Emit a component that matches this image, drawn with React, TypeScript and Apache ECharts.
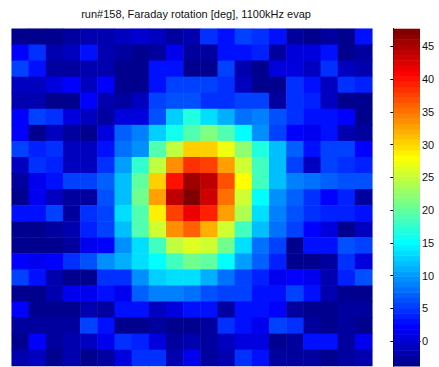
import React, { useEffect, useRef } from "react";
import * as echarts from "echarts";

const TITLE = "run#158, Faraday rotation [deg], 1100kHz evap";
const CLIM_MIN = -3.8;
const CLIM_MAX = 47.7;
const COLORBAR_TICKS = [0, 5, 10, 15, 20, 25, 30, 35, 40, 45];
const COLUMNS = Array.from({ length: 21 }, (_, i) => String(i + 1));
const ROW_NAMES = Array.from({ length: 21 }, (_, i) => String(i + 1));

// rows top to bottom, columns left to right
const row00 = [-3.5, -3.0, -3.5, -2.6, -1.4, -1.8, -1.0, -0.2, -0.6, -2.6, -1.4, 4.6, 3.0, 5.4, 5.0, 3.4, -2.6, -3.0, -2.6, -3.5, 3.0];
const row01 = [2.6, 4.6, -1.8, -0.6, 3.0, -1.8, -2.2, -3.4, -2.6, 1.4, -2.2, -2.2, 3.0, 3.0, 3.8, -2.2, 0.6, 0.6, 3.0, -3.4, -2.6];
const row02 = [5.4, 3.0, -2.6, -2.6, -1.8, -1.4, -3.5, -3.6, 3.0, 3.0, -3.0, -3.0, 5.4, -1.8, -3.4, 1.0, 1.0, -1.0, 4.6, -1.0, -1.8];
const row03 = [-1.0, -1.0, 1.0, 2.6, -0.6, 2.6, -3.0, -3.5, 3.0, 5.4, 5.4, 5.4, 4.6, -1.0, -3.6, -3.4, 4.6, 3.0, -1.0, 4.6, 3.8];
const row04 = [-1.4, -1.4, -3.5, -3.5, 2.6, -1.4, -2.6, -0.6, 5.4, 6.2, 6.2, 4.6, 4.6, 5.4, 5.4, -2.6, 4.6, 3.8, -1.0, -3.4, -3.4];
const row05 = [2.6, 5.4, 4.6, 0.6, -0.6, -2.2, 0.6, 0.6, 6.2, 12.7, 16.7, 13.9, 10.7, 7.9, 8.7, 6.2, 4.6, 3.0, 3.0, 2.2, -3.4];
const row06 = [2.2, -3.4, -1.0, -2.6, -3.6, 0.6, 7.0, 8.7, 12.3, 15.9, 19.1, 21.5, 19.1, 15.1, 9.5, 5.4, 2.2, 1.4, 3.0, -1.8, -2.2];
const row07 = [5.4, 3.8, 4.6, -0.6, -1.0, 3.0, 7.9, 9.5, 19.1, 24.7, 30.0, 30.0, 27.1, 22.3, 16.7, 11.5, 7.0, 3.0, 5.4, 5.4, 2.2];
const row08 = [-0.6, 4.6, 3.8, -0.6, -1.0, 4.6, 10.3, 17.5, 25.1, 33.6, 38.4, 37.6, 32.8, 25.9, 18.3, 11.5, 5.4, -1.0, 5.4, 4.6, 3.8];
const row09 = [-2.2, 1.4, 3.0, 5.4, 5.4, 7.0, 11.9, 19.9, 30.8, 40.0, 45.6, 44.0, 36.8, 27.9, 18.3, 11.5, 8.7, 7.9, 7.0, 6.2, 6.2];
const row10 = [-3.6, 1.4, -0.6, -2.6, -2.6, 6.2, 11.5, 20.7, 32.8, 44.0, 47.2, 43.6, 35.2, 25.9, 15.1, 9.5, 7.0, 4.6, 2.2, 3.8, -2.2];
const row11 = [3.0, 3.0, 5.4, -2.6, 4.6, 5.4, 13.5, 19.1, 28.7, 37.6, 42.0, 39.2, 33.2, 24.3, 13.5, 8.7, 6.2, 4.6, 3.8, 3.8, 3.0];
const row12 = [-3.4, -3.4, -2.8, -1.8, 3.8, 5.4, 11.9, 19.1, 25.5, 33.6, 36.0, 32.0, 25.9, 18.3, 11.5, 7.9, 5.4, 2.2, 1.0, -3.6, -1.0];
const row13 = [-3.0, -3.5, -3.0, -2.8, 1.4, 2.2, 9.5, 13.5, 18.3, 24.7, 26.7, 25.5, 20.7, 13.5, 7.9, 5.4, -3.4, 3.4, 3.4, 6.2, 5.4];
const row14 = [2.2, 1.4, 2.2, 4.6, 6.2, 9.5, 10.7, 13.5, 15.1, 18.3, 20.7, 19.9, 15.1, 10.3, 7.0, 3.8, -3.4, -3.6, -2.6, 4.6, 0.6];
const row15 = [5.4, 3.0, -1.4, -3.4, -3.4, 4.6, 4.6, 9.5, 12.3, 13.5, 13.5, 11.1, 7.9, 5.4, 3.8, 1.4, 2.2, 1.4, -1.8, 3.8, 6.2];
const row16 = [-3.6, -3.0, -1.8, 1.4, 1.4, 3.0, 1.4, 7.0, 8.7, 8.7, 7.9, 6.2, 5.4, 5.4, 3.0, 3.0, 5.4, 3.0, -1.8, -3.4, -3.6];
const row17 = [2.2, -3.0, -3.0, -3.0, -1.8, -2.6, 3.0, 3.0, -1.0, 1.0, 3.0, 3.0, -2.2, 3.0, 3.0, 2.2, -2.6, -3.0, -3.0, -2.6, -2.2];
const row18 = [-2.2, -2.2, -2.2, -2.6, 5.4, 3.0, -3.4, -3.4, -2.2, -3.6, -3.5, -2.6, 4.6, 3.0, 1.4, 5.4, 4.6, -2.2, -3.0, -2.6, -3.4];
const row19 = [-3.6, 2.2, -2.2, -1.4, -1.0, 1.8, 4.6, 3.8, 0.6, -2.6, -1.8, -2.2, -1.0, 0.6, 1.0, -3.4, -2.6, 3.0, 3.0, -2.6, 1.4];
const row20 = [-1.8, -0.6, -3.0, -1.8, -3.0, -2.6, 1.0, 4.6, 4.6, -1.4, 1.4, -2.2, -1.4, 4.6, 3.0, -2.2, -2.2, -2.6, -3.5, -2.6, -1.8];

const MATRIX = [row00, row01, row02, row03, row04, row05, row06, row07, row08, row09, row10,
  row11, row12, row13, row14, row15, row16, row17, row18, row19, row20];

// MATLAB jet(64) colormap
function jet64(): string[] {
  const out: string[] = [];
  const h = (v: number) => Math.round(Math.max(0, Math.min(1, v)) * 255).toString(16).padStart(2, "0");
  for (let i = 0; i < 64; i++) {
    let r = 0, g = 0, b = 0;
    if (i <= 23) r = 0; else if (i <= 39) r = (i - 23) / 16; else if (i <= 55) r = 1; else r = (71 - i) / 16;
    if (i <= 7) g = 0; else if (i <= 23) g = (i - 7) / 16; else if (i <= 39) g = 1; else if (i <= 55) g = (55 - i) / 16; else g = 0;
    if (i <= 7) b = (i + 9) / 16; else if (i <= 23) b = 1; else if (i <= 39) b = (39 - i) / 16; else b = 0;
    out.push("#" + h(r) + h(g) + h(b));
  }
  return out;
}

const JET = jet64();

export default function App() {
  const ref = useRef<HTMLDivElement>(null);
  useEffect(() => {
    if (!ref.current) return;
    const chart = echarts.init(ref.current, null, { renderer: "svg" });
    const n = JET.length;
    const w = (CLIM_MAX - CLIM_MIN) / n;
    const pieces = JET.map((color, i) => {
      const p: any = { color };
      if (i > 0) p.gte = CLIM_MIN + i * w;
      if (i < n - 1) p.lt = CLIM_MIN + (i + 1) * w;
      return p;
    });
    const heatData: number[][] = [];
    MATRIX.forEach((row, r) => row.forEach((v, c) => heatData.push([c, r, v])));
    const levels = JET.map((_, i) => [CLIM_MIN + i * w, CLIM_MIN + (i + 1) * w, i]);

    const font = "Liberation Sans, Arial, sans-serif";
    const frame = { show: true, lineStyle: { color: "#000", width: 1 } };

    chart.setOption({
      animation: false,
      backgroundColor: "#fff",
      title: {
        text: TITLE,
        left: 191,
        top: 3,
        textAlign: "center",
        textStyle: { fontFamily: font, fontSize: 11, fontWeight: "normal", color: "#111" },
      },
      grid: [
        { left: 11.7, top: 28.7, width: 360.6, height: 337.3 },
        { left: 393.3, top: 28.7, width: 26.7, height: 337.3 },
      ],
      xAxis: [
        { type: "category", data: COLUMNS, gridIndex: 0, show: false },
        { type: "value", gridIndex: 1, min: 0, max: 1, position: "bottom", axisLine: frame, axisTick: { show: false }, axisLabel: { show: false }, splitLine: { show: false } },
        { type: "value", gridIndex: 1, min: 0, max: 1, position: "top", axisLine: frame, axisTick: { show: false }, axisLabel: { show: false }, splitLine: { show: false } },
      ],
      yAxis: [
        { type: "category", data: ROW_NAMES, gridIndex: 0, inverse: true, show: false },
        {
          type: "value", gridIndex: 1, min: CLIM_MIN, max: CLIM_MAX, position: "right",
          axisLine: frame,
          axisTick: { show: true, inside: true, length: 3, customValues: COLORBAR_TICKS, lineStyle: { color: "#000" } },
          axisLabel: { show: true, customValues: COLORBAR_TICKS, margin: 2, fontFamily: font, fontSize: 11, color: "#111" },
          splitLine: { show: false },
        },
        {
          type: "value", gridIndex: 1, min: CLIM_MIN, max: CLIM_MAX, position: "left",
          axisLine: frame,
          axisTick: { show: true, inside: true, length: 3, customValues: COLORBAR_TICKS, lineStyle: { color: "#000" } },
          axisLabel: { show: false },
          splitLine: { show: false },
        },
      ],
      visualMap: {
        type: "piecewise",
        show: false,
        seriesIndex: 0,
        dimension: 2,
        pieces,
      },
      series: [
        {
          type: "heatmap",
          xAxisIndex: 0,
          yAxisIndex: 0,
          data: heatData,
          progressive: 0,
          itemStyle: { borderWidth: 0 },
          emphasis: { disabled: true },
        },
        {
          type: "custom",
          xAxisIndex: 1,
          yAxisIndex: 1,
          data: levels,
          z: 1,
          renderItem: (params: any, api: any) => {
            const lo = api.value(0);
            const hi = api.value(1);
            const idx = api.value(2);
            const p1 = api.coord([0, hi]);
            const p2 = api.coord([1, lo]);
            return {
              type: "rect",
              shape: { x: p1[0], y: p1[1], width: p2[0] - p1[0], height: p2[1] - p1[1] + 0.5 },
              style: { fill: JET[idx] },
            };
          },
        },
      ],
    });
    return () => chart.dispose();
  }, []);
  return <div ref={ref} style={{ position: "fixed", left: 0, top: 0, width: 439, height: 367 }} />;
}
